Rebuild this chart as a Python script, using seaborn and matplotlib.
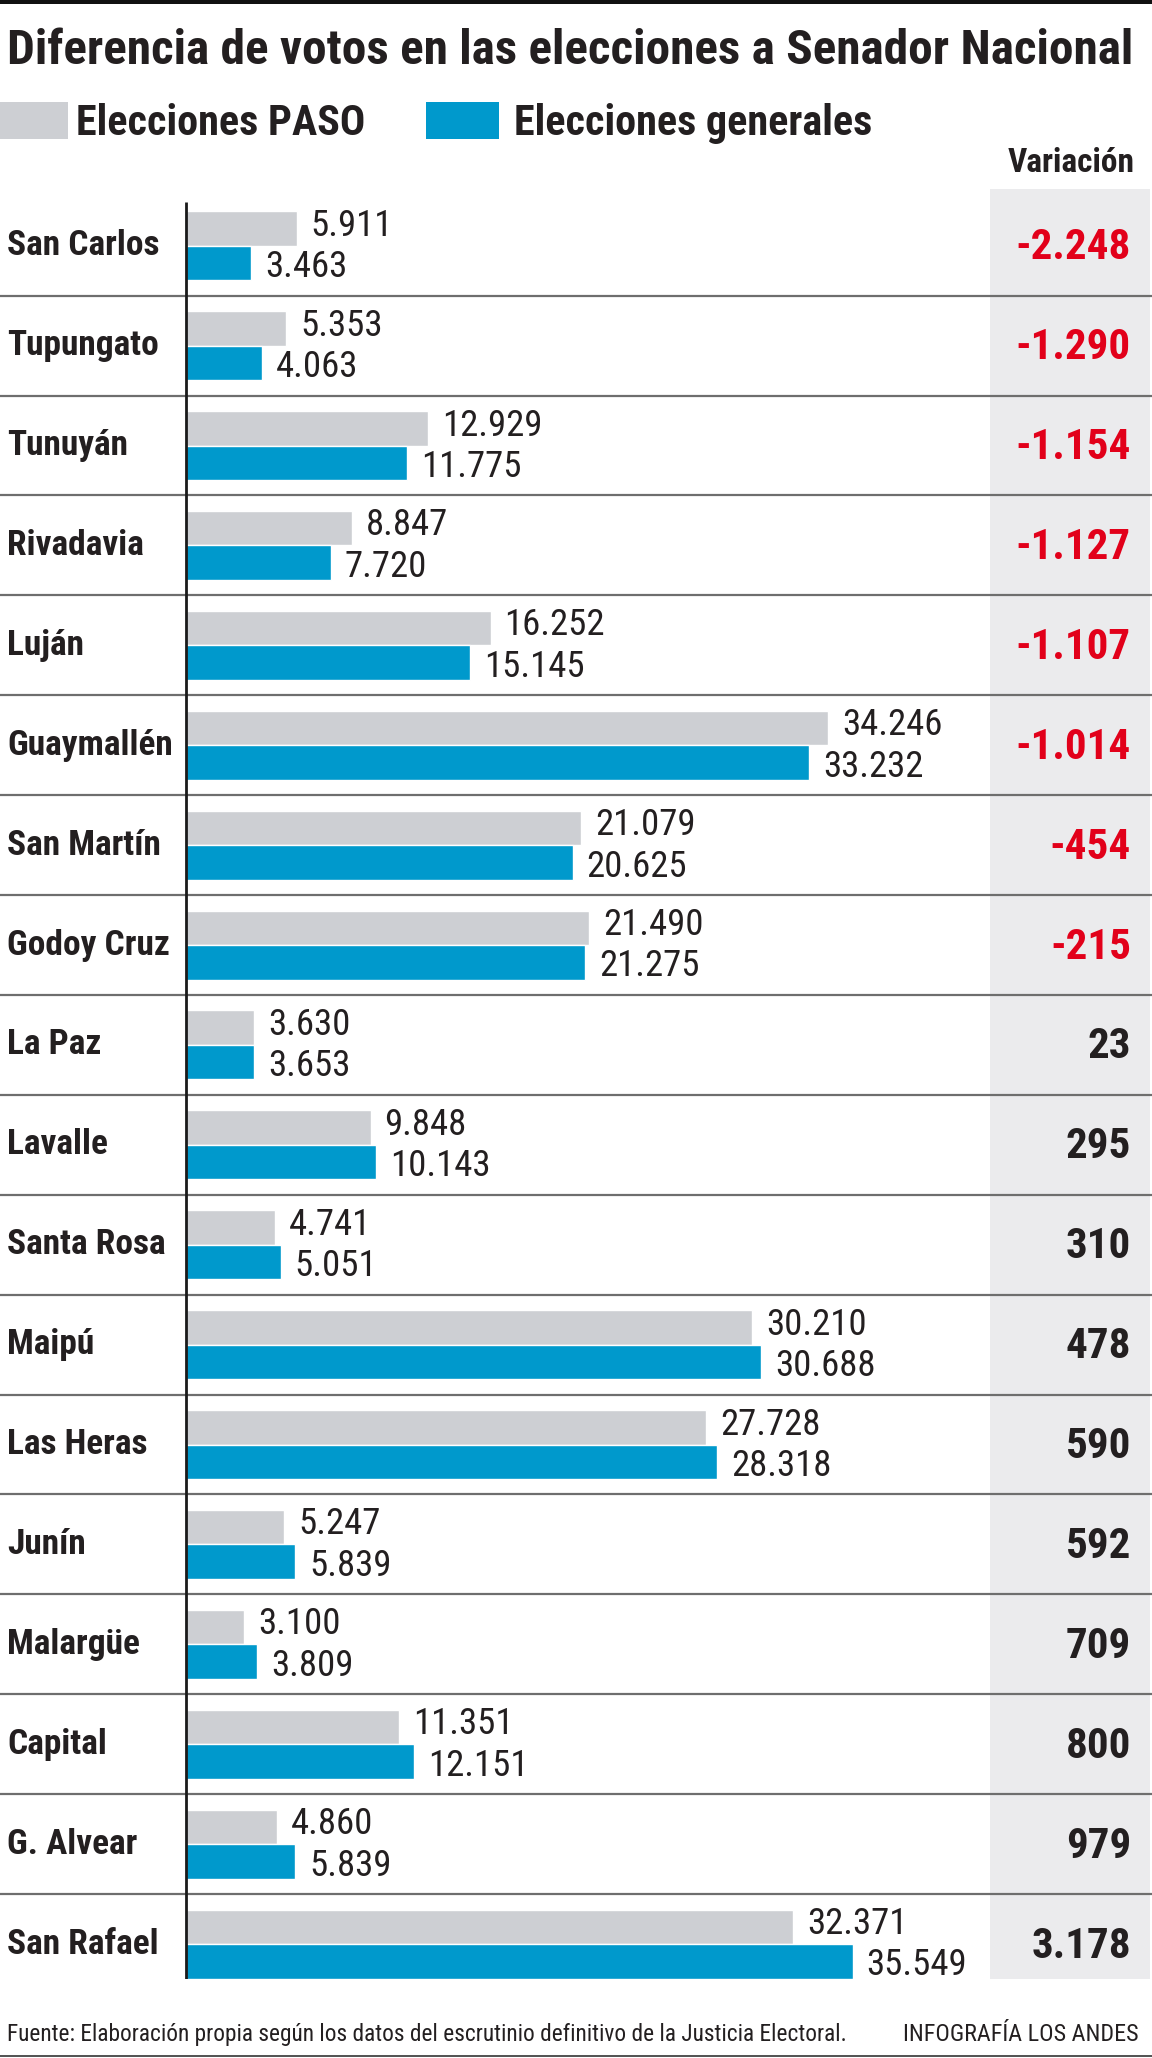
import matplotlib
matplotlib.use('Agg')
import matplotlib.pyplot as plt
from matplotlib import font_manager
from matplotlib.patches import Rectangle
from matplotlib.transforms import blended_transform_factory
import seaborn as sns
import pandas as pd

departamentos = ['San Carlos', 'Tupungato', 'Tunuyán', 'Rivadavia', 'Luján', 'Guaymallén',
                 'San Martín', 'Godoy Cruz', 'La Paz', 'Lavalle', 'Santa Rosa', 'Maipú',
                 'Las Heras', 'Junín', 'Malargüe', 'Capital', 'G. Alvear', 'San Rafael']
paso = [5911, 5353, 12929, 8847, 16252, 34246, 21079, 21490, 3630, 9848, 4741, 30210,
        27728, 5247, 3100, 11351, 4860, 32371]
generales = [3463, 4063, 11775, 7720, 15145, 33232, 20625, 21275, 3653, 10143, 5051, 30688,
             28318, 5839, 3809, 12151, 5839, 35549]
variacion = [-2248, -1290, -1154, -1127, -1107, -1014, -454, -215, 23, 295, 310, 478,
             590, 592, 709, 800, 979, 3178]
series = ['Elecciones PASO', 'Elecciones generales']
colores = ['#cdcfd3', '#0099cc']

titulo = 'Diferencia de votos en las elecciones a Senador Nacional'
fuente = 'Fuente: Elaboración propia según los datos del escrutinio definitivo de la Justicia Electoral.'
firma = 'INFOGRAFÍA LOS ANDES'

available = {f.name for f in font_manager.fontManager.ttflist}
narrow = next((f for f in ['Liberation Sans Narrow', 'Roboto Condensed', 'Open Sans Condensed',
                           'Liberation Sans'] if f in available), 'DejaVu Sans')


def miles(v):
    return f"{int(round(v)):,}".replace(',', '.')


sns.set_theme(style='white')
plt.rcParams['font.family'] = [narrow, 'DejaVu Sans']

W, H = 1152, 2058
ink = '#231f20'
rojo = '#e2001a'
fig = plt.figure(figsize=(W / 100, H / 100), dpi=100)
fig.patch.set_facecolor('white')


def fx(px):
    return px / W


def fy(py):
    return 1 - py / H


# layout in pixels (top-left origin)
row_px = 99.9
x0_px = 186
px_per_vote = 0.01875
top_px, bot_px = 189, 1979
y_bottom = 17.35

ax = fig.add_axes([0, fy(bot_px), 1, (bot_px - top_px) / H])

n = len(departamentos)
df = pd.DataFrame({
    'departamento': departamentos * 2,
    'votos': paso + generales,
    'eleccion': [series[0]] * n + [series[1]] * n,
})

sns.barplot(data=df, x='votos', y='departamento', hue='eleccion', hue_order=series,
            order=departamentos, palette=colores, orient='h', width=0.69, saturation=1,
            legend=False, errorbar=None, ax=ax, zorder=2)

ax.set_xlim(-x0_px / px_per_vote, (W - x0_px) / px_per_vote)
ax.set_ylim(y_bottom, y_bottom - (bot_px - top_px) / row_px)
ax.set_axis_off()

# variation column background
ax.add_patch(Rectangle((990 / W, 0), 160 / W, 1, transform=ax.transAxes,
                       facecolor='#ebebed', edgecolor='none', zorder=0))

# row separators
for i in range(n - 1):
    ax.axhline(i + 0.5, color='#6e6e6e', lw=1.6, zorder=1)

# vertical baseline
ax.vlines(0, -0.436, y_bottom, color='#1a1a1a', lw=2, zorder=3)

# value labels: PASO nudged up, generales nudged down
for cont, dy in zip(ax.containers, [2.0, -3.0]):
    anns = ax.bar_label(cont, labels=[miles(v) for v in cont.datavalues], padding=10,
                        fontsize=26.5, color=ink)
    for a in anns:
        a.xyann = (10, dy)

tr = blended_transform_factory(ax.transAxes, ax.transData)
for i, (name, var) in enumerate(zip(departamentos, variacion)):
    ax.text(7 / W, i, name, transform=tr, ha='left', va='center', fontsize=25.5,
            fontweight='bold', color=ink)
    ax.text(1131 / W, i + 0.02, miles(var), transform=tr, ha='right', va='center',
            fontsize=31, fontweight='bold', color=rojo if var < 0 else ink)

# header, legend, title, footer
fig.text(fx(1135), fy(172), 'Variación', ha='right', va='baseline', fontsize=24,
         fontweight='bold', color=ink)

fig.patches.append(Rectangle((0, fy(139)), fx(68), 37 / H, transform=fig.transFigure,
                             facecolor=colores[0], edgecolor='none'))
fig.patches.append(Rectangle((fx(426), fy(139)), fx(73), 37 / H, transform=fig.transFigure,
                             facecolor=colores[1], edgecolor='none'))
leg1 = fig.text(fx(76), fy(135), series[0], ha='left', va='baseline', fontsize=30,
                fontweight='bold', color=ink)
leg2 = fig.text(fx(514), fy(135), series[1], ha='left', va='baseline', fontsize=30,
                fontweight='bold', color=ink)

t_title = fig.text(fx(7), fy(64), titulo, ha='left', va='baseline', fontsize=36,
                   fontweight='bold', color=ink)
t_src = fig.text(fx(7), fy(2041), fuente, ha='left', va='baseline', fontsize=18, color=ink)
t_firma = fig.text(fx(1139), fy(2041), firma, ha='right', va='baseline', fontsize=18, color=ink)

renderer = fig.canvas.get_renderer()


def fit_width(t, target):
    w = t.get_window_extent(renderer).width
    t.set_fontsize(t.get_fontsize() * target / w)


fit_width(t_title, 1128)
fit_width(leg1, 289)
fit_width(leg2, 358)
fit_width(t_src, 842)
fit_width(t_firma, 234)

# top rule and bottom rule
fig.patches.append(Rectangle((0, fy(4)), 1, 4 / H, transform=fig.transFigure,
                             facecolor='#111111', edgecolor='none'))
fig.patches.append(Rectangle((0, fy(2057)), 1, 2 / H, transform=fig.transFigure,
                             facecolor='#555555', edgecolor='none'))

fig.savefig('out.png', dpi=100)
